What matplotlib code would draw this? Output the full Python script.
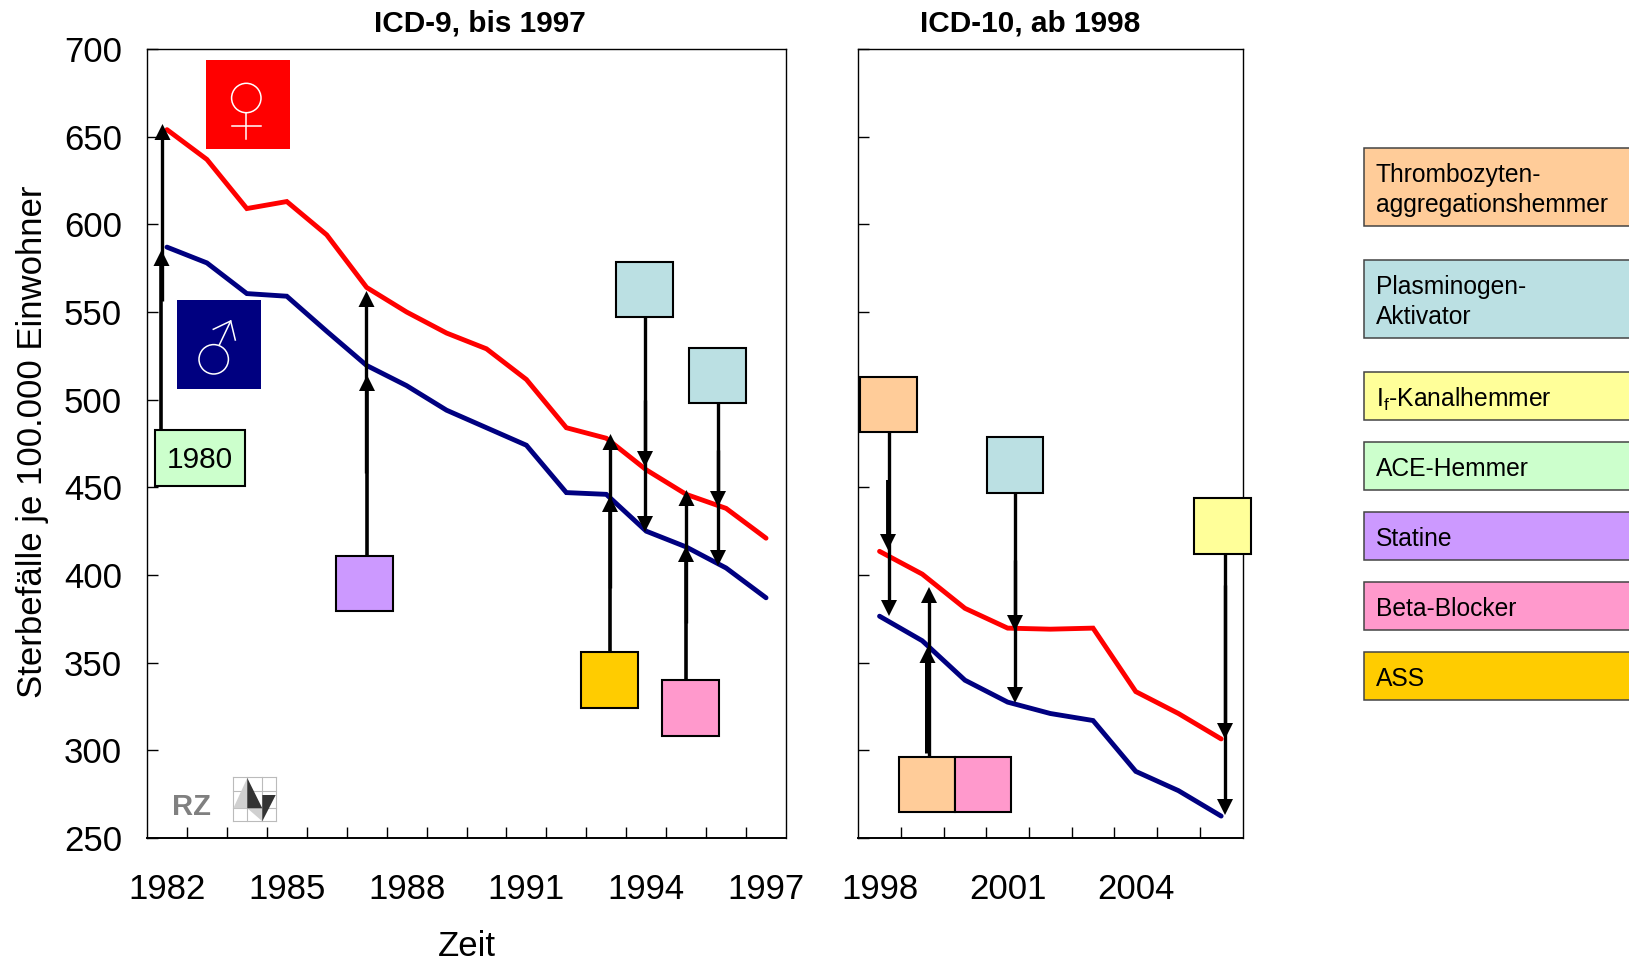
import matplotlib
matplotlib.use("Agg")
import matplotlib.pyplot as plt
from matplotlib.patches import Rectangle, Circle, Polygon

plt.rcParams["font.family"] = ["Liberation Sans", "DejaVu Sans"]
plt.rcParams["mathtext.default"] = "regular"

W, H = 1629, 960

# data
years_icd9 = list(range(1982, 1998))
women_icd9 = [654, 637, 609, 613, 594, 564, 550, 538, 529, 511.5, 484, 478, 460, 446, 438, 421]
men_icd9 = [587, 578, 560.5, 559, 539, 519.5, 508, 494, 484, 474, 447, 446, 425, 416, 404, 387]
years_icd10 = list(range(1998, 2007))
women_icd10 = [413.5, 400.5, 381, 369.7, 369.1, 369.7, 333.5, 321, 306.5]
men_icd10 = [376.5, 362.5, 340, 327.5, 321, 317, 288, 277, 262.5]
yticks = [250, 300, 350, 400, 450, 500, 550, 600, 650, 700]
labels_icd9 = [1982, 1985, 1988, 1991, 1994, 1997]
labels_icd10 = [1998, 2001, 2004]

RED = "#FF0000"
NAVY = "#000080"
PEACH = "#FFCC99"
TEAL = "#BBE0E3"
YELLOW = "#FFFF99"
GREEN = "#CCFFCC"
PURPLE = "#CC99FF"
PINK = "#FF99CC"
GOLD = "#FFCC00"

legend_names = ["Thrombozyten-\naggregationshemmer", "Plasminogen-\nAktivator",
                "$I_f$-Kanalhemmer", "ACE-Hemmer", "Statine", "Beta-Blocker", "ASS"]
legend_colors = [PEACH, TEAL, YELLOW, GREEN, PURPLE, PINK, GOLD]
legend_rows = [(148, 226), (260, 338), (372, 420), (442, 490), (512, 560), (582, 630), (652, 700)]


def make_axes(x0, x1, years, women, men, labels, show_y):
    top, bottom = 49, 838
    ax = fig.add_axes([x0 / W, 1 - bottom / H, (x1 - x0) / W, (bottom - top) / H])
    ax.plot(years, women, color=RED, lw=3.5, solid_capstyle="round", solid_joinstyle="miter")
    ax.plot(years, men, color=NAVY, lw=3.5, solid_capstyle="round", solid_joinstyle="miter")
    ax.set_xlim(years[0] - 0.5, years[-1] + 0.5)
    ax.set_ylim(250, 700)
    ax.set_yticks(yticks)
    ax.set_xticks([y + 0.5 for y in years[:-1]])
    ax.set_xticklabels([])
    ax.set_xticks(labels, [str(v) for v in labels], minor=True)
    ax.tick_params(axis="x", which="major", direction="in", length=8, width=1)
    ax.tick_params(axis="x", which="minor", length=0, pad=25, labelsize=25)
    ax.tick_params(axis="y", direction="in", length=8, width=1, pad=18, labelsize=25,
                   labelleft=show_y)
    for s in ax.spines.values():
        s.set_linewidth(1)
    ax.spines["bottom"].set_linewidth(1.4)
    return ax


def box(x0, y0, x1, y1, color, lw=1.5, ec="black"):
    over.add_patch(Rectangle((x0, y0), x1 - x0, y1 - y0, fc=color, ec=ec, lw=lw, zorder=5))


def arrow(x, y0, y1, lw=2.4):
    # vertical arrow in figure pixels, tip at y1
    d = 1 if y1 > y0 else -1
    over.plot([x, x], [y0, y1 - d * 10], color="black", lw=lw, solid_capstyle="butt", zorder=4)
    over.add_patch(Polygon([(x - 8, y1 - d * 16), (x + 8, y1 - d * 16), (x, y1)],
                           fc="black", ec="none", zorder=4))


fig = plt.figure(figsize=(W / 100, H / 100), dpi=100)
make_axes(147, 786, years_icd9, women_icd9, men_icd9, labels_icd9, True)
make_axes(858.2, 1242.5, years_icd10, women_icd10, men_icd10, labels_icd10, False)

# overlay in figure pixels for the boxes and arrows
over = fig.add_axes([0, 0, 1, 1], facecolor="none")
over.set_xlim(0, W)
over.set_ylim(H, 0)
over.axis("off")

over.text(480, 23, "ICD-9, bis 1997", fontsize=21.4, fontweight="bold", ha="center", va="center")
over.text(1030, 23, "ICD-10, ab 1998", fontsize=21.4, fontweight="bold", ha="center", va="center")
over.text(467, 946, "Zeit", fontsize=25, ha="center", va="center")
over.text(33, 442, "Sterbefälle je 100.000 Einwohner", fontsize=25, rotation=90, ha="center", va="center")

# arrows
arrow(161.5, 429, 250, 2.6)
arrow(162.5, 301, 124)
arrow(367, 556, 375, 2.6)
arrow(366.5, 473, 291)
arrow(610, 651, 496, 2.6)
arrow(610.5, 588, 434)
arrow(686, 680, 546, 2.6)
arrow(686.5, 623, 490)
arrow(645, 317, 467)
arrow(645, 400, 532)
arrow(718, 403, 507)
arrow(718, 450, 566)
arrow(889, 431, 616)
arrow(888, 480, 550, 2.8)
arrow(1015, 493, 631)
arrow(1015, 560, 703)
arrow(1225, 554, 739)
arrow(1225, 585, 815)
arrow(929, 756, 587)
arrow(927.5, 753, 647, 3.6)

# boxes on the chart
box(155, 430, 245, 486, GREEN)
over.text(200, 460, "1980", fontsize=21.5, ha="center", va="center", zorder=6)
box(336, 556, 393, 611, PURPLE)
box(581, 652, 638, 708, GOLD)
box(662, 680, 719, 736, PINK)
box(616, 262, 673, 317, TEAL)
box(689, 348, 746, 403, TEAL)
box(860, 377, 917, 432, PEACH)
box(987, 437, 1043, 493, TEAL)
box(1194, 498, 1251, 554, YELLOW)
box(899, 757, 955, 812, PEACH)
box(955, 757, 1011, 812, PINK)

# legend
for name, col, (y0, y1) in zip(legend_names, legend_colors, legend_rows):
    box(1364, y0, 1660, y1, col, lw=1.1, ec="#444444")
    over.text(1376, (y0 + y1) / 2 + 3, name, fontsize=17.7, ha="left", va="center",
              linespacing=1.3, zorder=6)

# gender symbols
over.add_patch(Rectangle((206, 60), 84, 89, fc=RED, ec="none", zorder=3))
over.add_patch(Circle((246.3, 98), 14.7, fc="none", ec="white", lw=1.1, zorder=6))
over.plot([246.3, 246.3], [112.7, 139.3], color="white", lw=1.1, zorder=6)
over.plot([232.3, 260.7], [126, 126], color="white", lw=1.1, zorder=6)
over.add_patch(Rectangle((177, 300), 84, 89, fc=NAVY, ec="none", zorder=3))
over.add_patch(Circle((213.7, 359.3), 14.7, fc="none", ec="white", lw=1.1, zorder=6))
over.plot([219.3, 230.7], [345, 321], color="white", lw=1.1, zorder=6)
over.plot([213.3, 230.7, 235.3], [329.3, 321, 340], color="white", lw=1.1, zorder=6)

# RZ logo
over.text(192, 807, "RZ", fontsize=21, fontweight="bold", color="#808080", ha="center", va="center")
for gx in [233.3, 247.3, 262.3, 275.7]:
    over.plot([gx, gx], [777.3, 821.3], color="#BBBBBB", lw=0.8, zorder=2)
for gy in [777.3, 790.7, 808.3, 821.3]:
    over.plot([233.3, 275.7], [gy, gy], color="#BBBBBB", lw=0.8, zorder=2)
over.add_patch(Polygon([(233.3, 808.3), (247.3, 778), (247.3, 808.3)], fc="#D0D0D0", ec="none", zorder=3))
over.add_patch(Polygon([(247.3, 808.3), (262.3, 808.3), (262.3, 821.3)], fc="#D0D0D0", ec="none", zorder=3))
over.add_patch(Polygon([(247.3, 778), (262.3, 808.3), (247.3, 808.3)], fc="#333333", ec="none", zorder=4))
over.add_patch(Polygon([(262.3, 795), (275.7, 795), (262.3, 821.3)], fc="#333333", ec="none", zorder=4))

fig.savefig("out.png", dpi=100)
